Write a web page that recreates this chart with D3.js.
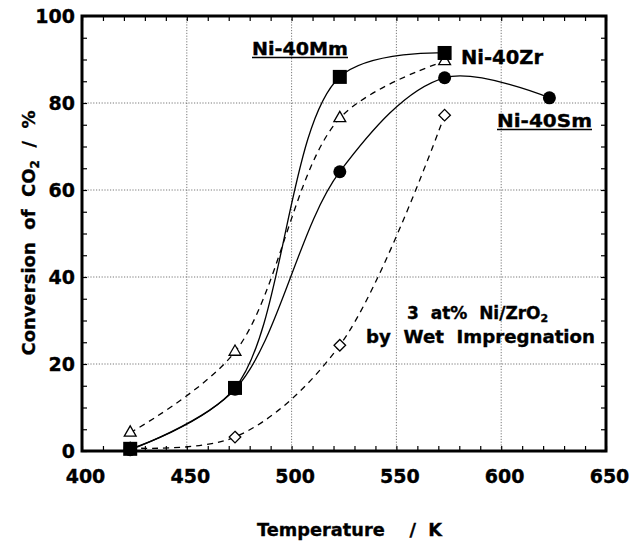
<!DOCTYPE html>
<html><head><meta charset="utf-8">
<script src="https://cdn.jsdelivr.net/npm/d3@7"></script>
<style>
body{margin:0;background:#fff;}
text{font-family:"DejaVu Sans","Liberation Sans",Arial,sans-serif;font-weight:bold;fill:#000;white-space:pre;stroke:#000;stroke-width:0.35px;}
</style></head>
<body><svg id="c" width="641" height="541"></svg>
<script>
const temps = [423, 473, 523, 573, 623];
const mmVals = [0.5, 14.5, 86, 91.5];      // Ni-40Mm, filled squares, solid
const zrVals = [4.2, 22.8, 76.5, 89.6];    // Ni-40Zr, open triangles, dashed
const smVals = [0.3, 14.2, 64.2, 85.8, 81.2]; // Ni-40Sm, filled circles, solid
const impVals = [0.7, 3.2, 24.3, 77.2];    // 3 at% Ni/ZrO2 wet impregnation, open diamonds, dashed
const xTicks = [400, 450, 500, 550, 600, 650];
const yTicks = [0, 20, 40, 60, 80, 100];

const FONT = "DejaVu Sans, Liberation Sans, Arial, sans-serif";
const svg = d3.select("#c");
const L = 82, R = 606, T = 16, B = 451;
const x = d3.scaleLinear().domain([400, 650]).range([L, R]);
const y = d3.scaleLinear().domain([0, 100]).range([B, T]);

// grid
const g = svg.append("g");
g.selectAll(".gx").data(xTicks.slice(1, -1)).enter().append("line")
  .attr("x1", d => x(d)).attr("x2", d => x(d)).attr("y1", T).attr("y2", B)
  .attr("stroke", "#555").attr("stroke-width", 0.8).attr("stroke-dasharray", "1.2,1.6");
g.selectAll(".gy").data(yTicks.slice(1, -1)).enter().append("line")
  .attr("y1", d => y(d)).attr("y2", d => y(d)).attr("x1", L).attr("x2", R)
  .attr("stroke", "#555").attr("stroke-width", 0.8).attr("stroke-dasharray", "1.2,1.6");

// axes with inward ticks
const minorX = d3.range(400, 651, 10);
const minorY = d3.range(0, 101, 5);
function ticks(gen, tr) {
  svg.append("g").attr("transform", tr)
    .call(gen.tickSize(5).tickFormat(""))
    .call(a => a.select(".domain").remove()).selectAll("line").attr("stroke-width", 1.2);
}
ticks(d3.axisTop(x).tickValues(minorX), `translate(0,${B})`);
ticks(d3.axisBottom(x).tickValues(minorX), `translate(0,${T})`);
ticks(d3.axisRight(y).tickValues(minorY), `translate(${L},0)`);
ticks(d3.axisLeft(y).tickValues(minorY), `translate(${R},0)`);

// tick labels
const xa = svg.append("g").attr("transform", `translate(0,${B})`)
  .call(d3.axisBottom(x).tickValues(xTicks).tickSize(0).tickPadding(19).tickFormat(d3.format("d")));
xa.select(".domain").remove();
xa.selectAll("text").attr("font-size", 19).attr("font-family", FONT)
  .attr("font-weight", "bold").attr("dx", 3);
const ya = svg.append("g").attr("transform", `translate(${L},0)`)
  .call(d3.axisLeft(y).tickValues(yTicks).tickSize(0).tickPadding(7).tickFormat(d3.format("d")));
ya.select(".domain").remove();
ya.selectAll("text").attr("font-size", 19).attr("font-family", FONT)
  .attr("font-weight", "bold").attr("dy", "0.36em");

// frame
svg.append("rect").attr("x", L).attr("y", T).attr("width", R - L).attr("height", B - T)
  .attr("fill", "none").attr("stroke", "#000").attr("stroke-width", 3);

// curves
const line = d3.line().x(d => x(d[0])).y(d => y(d[1])).curve(d3.curveCatmullRom.alpha(0.5));
const series = [
  {vals: impVals, dash: "6,5"},
  {vals: zrVals, dash: "6,5"},
  {vals: smVals, dash: null},
  {vals: mmVals, dash: null}
];
series.forEach(s => {
  svg.append("path").datum(s.vals.map((v, i) => [temps[i], v]))
    .attr("d", line).attr("fill", "none").attr("stroke", "#000").attr("stroke-width", 1.3)
    .attr("stroke-dasharray", s.dash);
});

// markers
const pts = v => v.map((d, i) => [temps[i], d]);
svg.selectAll(".dia").data(pts(impVals)).enter().append("path")
  .attr("d", d3.symbol(d3.symbolDiamond2, 85)).attr("transform", d => `translate(${x(d[0])},${y(d[1])})`)
  .attr("fill", "#fff").attr("stroke", "#000").attr("stroke-width", 1.3);
svg.selectAll(".tri").data(pts(zrVals)).enter().append("path")
  .attr("d", d3.symbol(d3.symbolTriangle2, 100)).attr("transform", d => `translate(${x(d[0])},${y(d[1])})`)
  .attr("fill", "#fff").attr("stroke", "#000").attr("stroke-width", 1.3);
svg.selectAll(".cir").data(pts(smVals)).enter().append("circle")
  .attr("cx", d => x(d[0])).attr("cy", d => y(d[1])).attr("r", 6.5).attr("fill", "#000");
svg.selectAll(".sq").data(pts(mmVals)).enter().append("rect")
  .attr("x", d => x(d[0]) - 7).attr("y", d => y(d[1]) - 7).attr("width", 14).attr("height", 14).attr("fill", "#000");

// labels
function label(t, x0, yb, w, fs, underline) {
  svg.append("text").attr("x", x0).attr("y", yb).attr("font-size", fs)
    .attr("textLength", w).attr("lengthAdjust", "spacingAndGlyphs").text(t);
  if (underline) svg.append("line").attr("x1", x0).attr("x2", x0 + w).attr("y1", yb + 2.5).attr("y2", yb + 2.5)
    .attr("stroke", "#000").attr("stroke-width", 1.6);
}
label("Ni-40Mm", 252, 55, 96, 17, true);
label("Ni-40Zr", 461, 64, 82, 19, false);
label("Ni-40Sm", 497, 127, 95, 18, true);

const t1 = svg.append("text").attr("x", 407).attr("y", 319).attr("font-size", 17);
t1.append("tspan").text("3  at%  Ni/ZrO");
t1.append("tspan").attr("font-size", 11).attr("dy", 3).text("2");
svg.append("text").attr("x", 366).attr("y", 343).attr("font-size", 17)
  .attr("textLength", 229).attr("lengthAdjust", "spacingAndGlyphs").text("by  Wet  Impregnation");

// axis titles
svg.append("text").attr("x", 257).attr("y", 536).attr("font-size", 18)
  .attr("textLength", 185).attr("lengthAdjust", "spacingAndGlyphs").text("Temperature    /  K");
const yt = svg.append("text").attr("transform", "translate(35,233) rotate(-90)").attr("text-anchor", "middle").attr("font-size", 18);
yt.append("tspan").text("Conversion  of  CO");
yt.append("tspan").attr("font-size", 12).attr("dy", 4).text("2");
yt.append("tspan").attr("dy", -4).text("  /  %");
</script></body></html>
